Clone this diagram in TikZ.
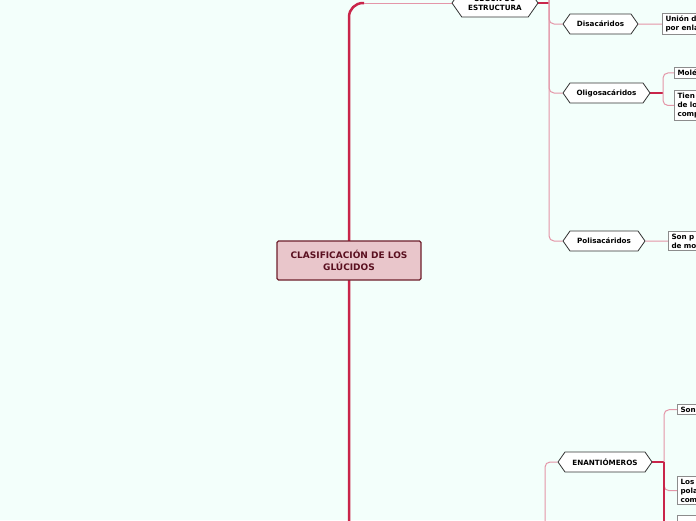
\documentclass[tikz,border=0pt]{standalone}
\usepackage{fontspec}
\setmainfont{DejaVu Sans}
\usetikzlibrary{shapes.symbols,backgrounds}
\definecolor{fondo}{RGB}{243,255,251}
\definecolor{carmin}{RGB}{201,37,74}
\definecolor{rosa}{RGB}{228,150,168}
\definecolor{central}{RGB}{233,198,203}
\definecolor{granate}{RGB}{110,31,44}
\definecolor{textoc}{RGB}{90,16,32}

\begin{document}
\begin{tikzpicture}[x=1pt, y=-1pt, font=\bfseries\fontsize{7.2}{9}\selectfont,
  hexa/.style={draw=black!80, fill=white, line width=0.8pt, shape=signal,
    signal to=west and east, signal pointer angle=110, minimum height=20pt, inner sep=0pt},
  hoja/.style={draw=black!45, fill=white, line width=1pt, anchor=north west,
    align=left, text width=60pt, inner xsep=3pt, inner ysep=2.5pt},
  rama/.style={draw=rosa, line width=1pt, rounded corners=5pt},
  rojo/.style={draw=carmin, line width=1.3pt},
  tronco/.style={draw=carmin, line width=2.5pt, rounded corners=14pt}]
\useasboundingbox (0,0) rectangle (696,520);
\clip (0,0) rectangle (696,520);
\begin{scope}[on background layer]
\fill[fondo] (0,0) rectangle (696,520);
\end{scope}

\node[draw=granate, fill=central, line width=1.2pt, rounded corners=1.5pt, minimum width=144pt,
  minimum height=39pt, align=center, text=textoc, font=\bfseries\fontsize{9}{11.5}\selectfont]
  (gluc) at (349,260.5) {CLASIFICACIÓN DE LOS\\GLÚCIDOS};

\node[hexa, minimum width=86pt, minimum height=28pt, align=center] (est) at (495,3) {SEGÚN SU\\ESTRUCTURA};
\node[hexa, minimum width=75pt] (dis) at (600.5,24) {Disacáridos};
\node[hexa, minimum width=87pt] (oli) at (606.5,93) {Oligosacáridos};
\node[hexa, minimum width=82pt] (pol) at (604,241) {Polisacáridos};
\node[hexa, minimum width=94pt] (ena) at (605,462) {ENANTIÓMEROS};

\node[hoja] (union) at (662,13) {Unión d\\por enla};
\node[hoja] (mol) at (674,67) {Molé};
\node[hoja] (tien) at (674,90) {Tien\\de lo\\comp};
\node[hoja] (sonp) at (668,231) {Son p\\de mo};
\node[hoja] (son) at (677,404) {Son};
\node[hoja] (los) at (677,476) {Los\\pola\\com};
\node[hoja, minimum height=20pt] (otra) at (677,515) {};

\coordinate (tb) at (349,525);
\coordinate (tc) at (364,3);
\coordinate (j1) at (549,3);
\coordinate (v1) at (549,-5);
\coordinate (j2) at (663,93);
\coordinate (v2) at (545,525);
\coordinate (j3) at (664,462);
\coordinate (v3) at (664,525);

\begin{scope}[on background layer]
\draw[tronco] (tb) |- (tc);
\draw[rama] (tc) -- (est.west);
\draw[rojo] (est.east) -- (j1);
\draw[rama] (v1) |- (pol.west);
\draw[rama] (v1) |- (dis.west);
\draw[rama] (v1) |- (oli.west);
\draw[rama] (dis.east) -- (union.west);
\draw[rojo] (oli.east) -- (j2);
\draw[rama] (j2) |- (mol.west);
\draw[rama] (j2) |- (tien.west);
\draw[rama] (pol.east) -- (sonp.west);
\draw[rama] (v2) |- (ena.west);
\draw[rojo] (ena.east) -- (j3);
\draw[rama] (j3) |- (son.west);
\draw[rama] (j3) |- (los.west);
\draw[rojo] (j3) -- (v3);
\end{scope}
\end{tikzpicture}
\end{document}
